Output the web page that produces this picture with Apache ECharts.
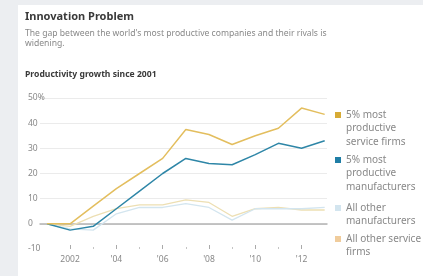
<!DOCTYPE html>
<html>
<head>
<meta charset="utf-8">
<script src="https://cdn.jsdelivr.net/npm/echarts@6/dist/echarts.min.js"></script>
<style>
  html, body { margin:0; padding:0; width:423px; height:276px; overflow:hidden; background:#eceef1; }
  #card { position:absolute; left:18px; top:5px; right:0; bottom:0; background:#ffffff; }
  #chart { position:absolute; left:0; top:0; width:423px; height:276px; }
</style>
</head>
<body>
<div id="card"></div>
<div id="chart"></div>
<script>
// ---- data ----
const years = [2001, 2002, 2003, 2004, 2005, 2006, 2007, 2008, 2009, 2010, 2011, 2012, 2013];
const topServiceFirms   = [0, 0, 7, 14, 20, 26, 37.5, 35.5, 31.5, 35, 38, 46, 43.5];
const topManufacturers  = [0, -2.5, -1, 6, 13, 20, 26, 24, 23.5, 27.5, 32, 30, 33];
const otherManufacturers = [0, -2, -2.5, 4, 6.5, 6.5, 8, 6.5, 1.5, 6, 6, 6, 6.5];
const otherServiceFirms = [0, -1, 3, 6, 7.5, 7.5, 9.5, 8.5, 3, 6, 6.5, 5.5, 5.5];
const majorTickYears = [2002, 2004, 2006, 2008, 2010, 2012];
const majorTickLabels = ['2002', "'04", "'06", "'08", "'10", "'12"];
const minorTickYears = [2003, 2005, 2007, 2009, 2011];
const yTickLabels = { '-10': '-10', '0': '0', '10': '10', '20': '20', '30': '30', '40': '40', '50': '50%' };
const seriesNames = ['5% most\nproductive\nservice firms', '5% most\nproductive\nmanufacturers', 'All other\nmanufacturers', 'All other service\nfirms'];

const FONT = 'Noto Sans';
const pairs = arr => years.map((y, i) => [y, arr[i]]);

const chart = echarts.init(document.getElementById('chart'), null, { renderer: 'canvas' });

const legendColors = ['#d7ab35', '#1f7ea6', '#d3e5ef', '#f0cc9c'];
const legendCenters = [115, 160, 208, 239];
const graphics = [];
seriesNames.forEach((name, i) => {
  graphics.push({
    type: 'rect', left: 335, top: legendCenters[i] - 3,
    shape: { width: 6, height: 6 }, style: { fill: legendColors[i] }
  });
  graphics.push({
    type: 'text', left: 346, top: legendCenters[i] - 7,
    style: { text: name, fill: '#888', fontSize: 10, fontFamily: FONT, lineHeight: 13.5 }
  });
});

const lineSeries = (name, data, color, z, w) => ({
  name, type: 'line', data: pairs(data), showSymbol: false, symbol: 'none',
  lineStyle: { color, width: w }, itemStyle: { color }, z, silent: true,
  xAxisIndex: 0, yAxisIndex: 0, animation: false
});

chart.setOption({
  animation: false,
  title: [
    { text: 'Innovation Problem', left: 25, top: 11, padding: 0,
      textStyle: { fontSize: 11, fontWeight: 'bold', color: '#3a3a3a', fontFamily: FONT } },
    { text: "The gap between the world's most productive companies and their rivals is\nwidening.", left: 25, top: 28, padding: 0,
      textStyle: { fontSize: 8.6, fontWeight: 'normal', color: '#888', fontFamily: FONT, lineHeight: 10.5 } },
    { text: 'Productivity growth since 2001', left: 25, top: 70, padding: 0,
      textStyle: { fontSize: 8.6, fontWeight: 'bold', color: '#3a3a3a', fontFamily: FONT } }
  ],
  grid: { left: 40, right: 96, top: 98, bottom: 27, containLabel: false },
  xAxis: [
    { type: 'value', min: 2000.7, max: 2013.1, position: 'bottom',
      axisLine: { show: false, onZero: false },
      axisTick: { show: true, inside: true, length: 4, customValues: majorTickYears, lineStyle: { color: '#aaa' } },
      axisLabel: { show: true, customValues: majorTickYears, margin: 6, fontSize: 8.5, color: '#888', fontFamily: FONT,
        formatter: v => majorTickLabels[majorTickYears.indexOf(Math.round(v))] || '' },
      splitLine: { show: false } },
    { type: 'value', min: 2000.7, max: 2013.1, position: 'bottom',
      axisLine: { show: false, onZero: false },
      axisTick: { show: true, inside: true, length: 2, customValues: minorTickYears, lineStyle: { color: '#c4c4c4' } },
      axisLabel: { show: false }, splitLine: { show: false } },
    { type: 'value', min: 2000.7, max: 2013.1,
      axisLine: { show: true, onZero: true, lineStyle: { color: '#b3b3b3', width: 1.5 } },
      axisTick: { show: false }, axisLabel: { show: false }, splitLine: { show: false } }
  ],
  yAxis: [{
    type: 'value', min: -10, max: 50, interval: 10,
    axisLine: { show: false }, axisTick: { show: false },
    axisLabel: { show: true, align: 'left', verticalAlign: 'middle', margin: 12, fontSize: 8.5, color: '#888',
      fontFamily: FONT, padding: [0, 0, 8, 0], formatter: v => yTickLabels[String(v)] },
    splitLine: { show: true, showMinLine: false, lineStyle: { color: '#ebebeb', width: 1 } }
  }],
  series: [
    lineSeries('All other service firms', otherServiceFirms, '#eddfb3', 3, 1.3),
    lineSeries('All other manufacturers', otherManufacturers, '#d3e5ef', 3, 1.3),
    lineSeries('5% most productive manufacturers', topManufacturers, '#2e86a7', 4, 1.5),
    lineSeries('5% most productive service firms', topServiceFirms, '#e3be5e', 5, 1.5)
  ],
  graphic: graphics
});
</script>
</body>
</html>
